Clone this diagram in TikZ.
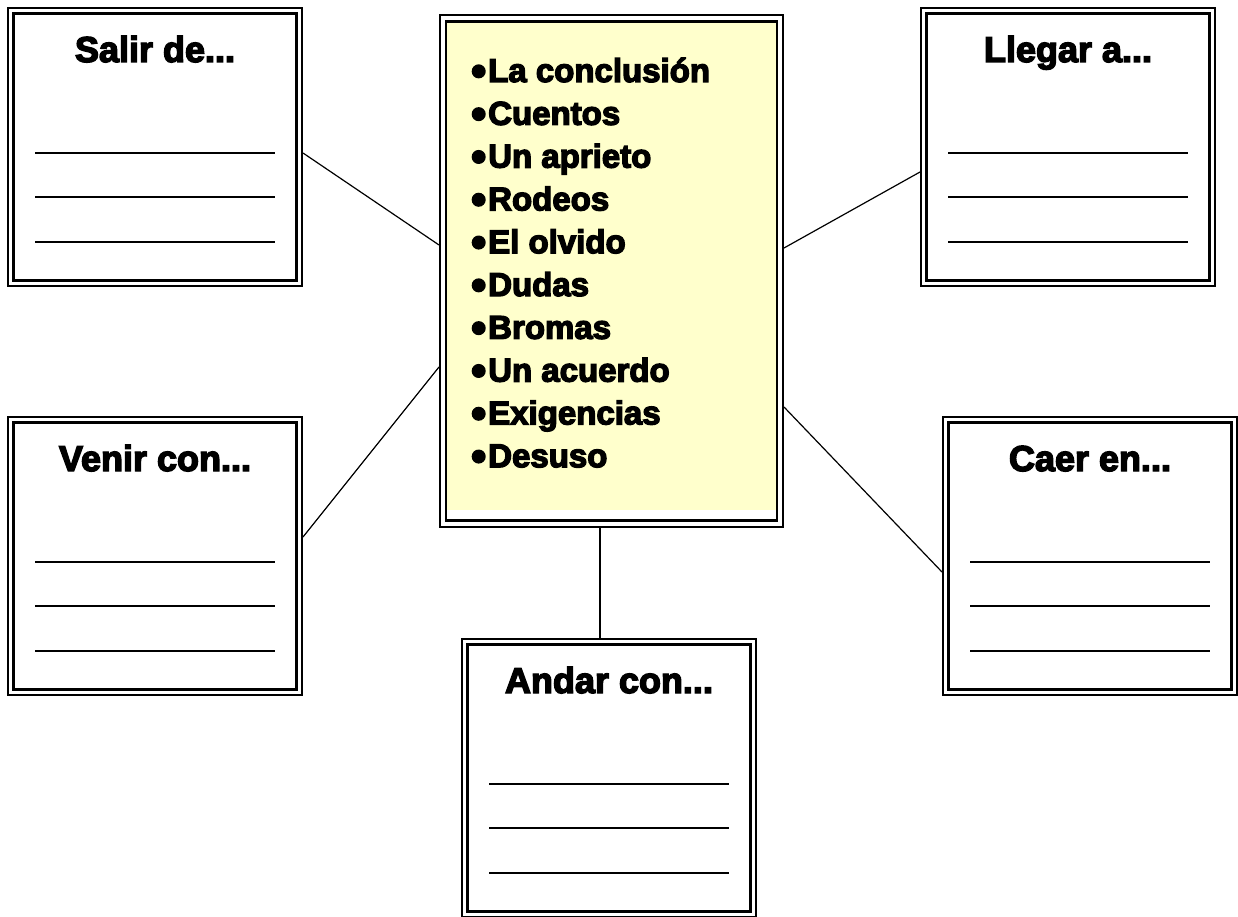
\documentclass[tikz,border=0pt]{standalone}
\usepackage{fontspec}
\setmainfont{Liberation Sans}[BoldFeatures={FakeBold=4}]
\usetikzlibrary{calc,backgrounds}
\definecolor{paleyellow}{HTML}{FFFFCC}
\begin{document}
\begin{tikzpicture}[x=1pt,y=-1pt,
  outerbox/.style={draw, line width=2pt, minimum width=294pt, minimum height=278pt, inner sep=0pt},
  innerbox/.style={draw, line width=2.6pt, minimum width=283pt, minimum height=267pt, inner sep=0pt},
  boxtitle/.style={font=\fontsize{36}{40}\selectfont\bfseries, anchor=base, inner sep=0pt},
  listitem/.style={font=\fontsize{33}{36}\selectfont\bfseries, anchor=base west, inner sep=0pt},
  link/.style={line width=1.2pt},
  answerline/.style={line width=1.2pt}]
\useasboundingbox (0,0) rectangle (1238,917);

% central box
\node[draw, line width=2pt, minimum width=343pt, minimum height=511pt, inner sep=0pt] (center) at (611.5,271) {};
\node[draw, line width=2.6pt, minimum width=331pt, minimum height=499pt, inner sep=0pt] (centerin) at (center) {};
\begin{scope}[on background layer]
  \fill[white] (0,0) rectangle (1238,917);
  \fill[paleyellow] (centerin.north west) rectangle (centerin.east |- 0,510);
\end{scope}
\foreach \t [count=\i from 0] in {La conclusión, Cuentos, Un aprieto, Rodeos, El olvido, Dudas, Bromas, Un acuerdo, Exigencias, Desuso}
  \node[listitem] (item\i) at (471, 82+42.8*\i) {\makebox[17pt][l]{\raisebox{-3.5pt}{\scalebox{1.3}{•}}}\t};

% side boxes
\foreach \name/\cx/\cy/\ttl in {salir/155/147/{Salir de...}, llegar/1068/147/{Llegar a...}, venir/155/556/{Venir con...}, caer/1090/556/{Caer en...}, andar/609/778/{Andar con...}} {
  \node[outerbox] (\name) at (\cx,\cy) {};
  \node[innerbox] (\name in) at (\name) {};
  \node[boxtitle] (\name title) at ($(\name)+(0,-85)$) {\ttl};
  \foreach \dy in {6,50,95}
    \draw[answerline] ($(\name)+(-120,\dy)$) -- ++(240,0);
}

% connectors
\draw[link] ([yshift=-6pt]salir.east) -- ([yshift=26pt]center.west);
\draw[link] ([yshift=-25pt]llegar.west) -- ([yshift=23pt]center.east);
\draw[link] ([yshift=19pt]venir.east) -- ([yshift=-96pt]center.west);
\draw[link] ([yshift=-16pt]caer.west) -- ([yshift=-136pt]center.east);
\draw[link] ([xshift=-11.5pt]center.south) -- ([xshift=-9pt]andar.north);
\end{tikzpicture}
\end{document}
